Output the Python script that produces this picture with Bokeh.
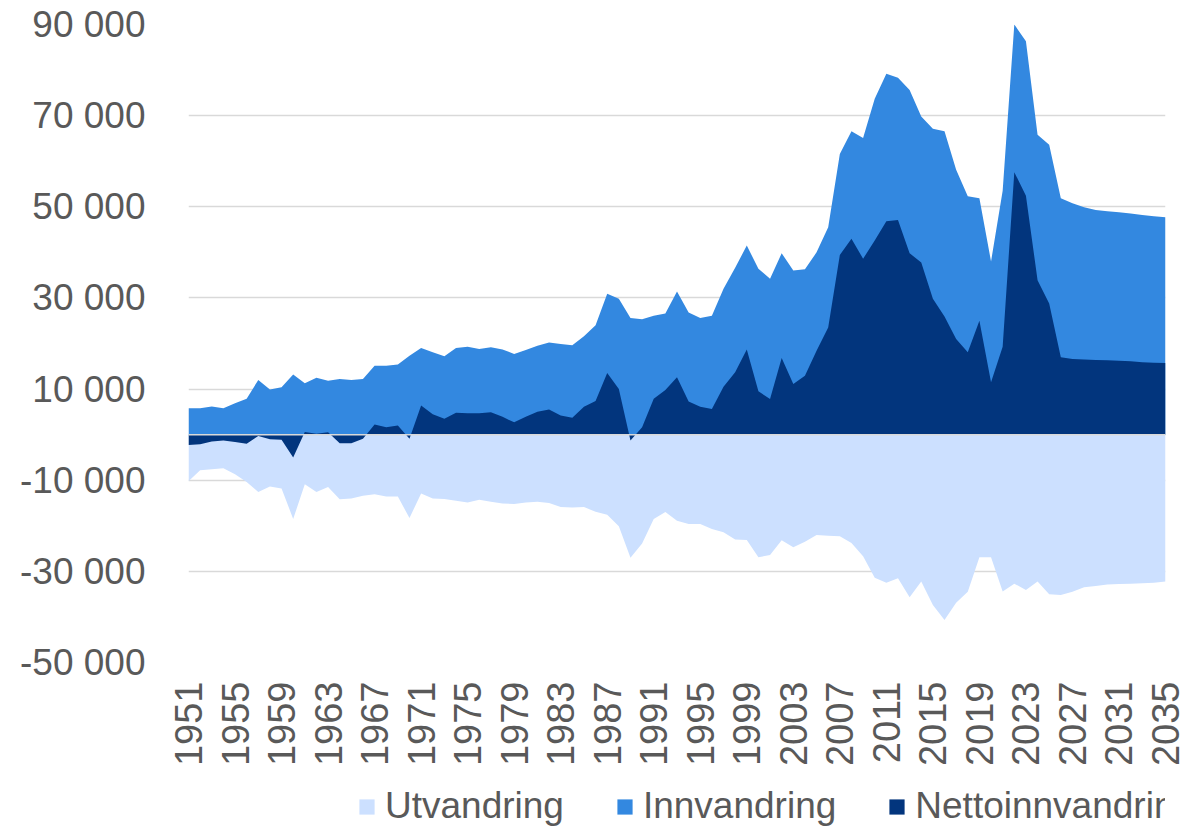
import math
from bokeh.plotting import figure
from bokeh.layouts import column
from bokeh.models import Range1d, FixedTicker, Legend, LegendItem, Span
from bokeh.embed import file_html
from bokeh.resources import INLINE

years = list(range(1951, 2036))

innvandring = [
    5800, 5800, 6200, 5800, 6900, 7900, 12000, 9900, 10400, 13200,
    11300, 12500, 11800, 12200, 12000, 12200, 15100, 15100, 15400, 17300,
    19000, 18100, 17200, 19000, 19300, 18800, 19200, 18700, 17700, 18600,
    19500, 20200, 19900, 19600, 21600, 24000, 30900, 29800, 25600, 25300,
    26100, 26600, 31400, 26800, 25600, 26100, 32000, 36600, 41500, 36400,
    34200, 39800, 36000, 36300, 40000, 45500, 61600, 66600, 65100, 73700,
    79200, 78300, 75600, 69800, 67100, 66600, 58100, 52300, 51900, 38000,
    53500, 90000, 86300, 65800, 63600, 51900, 50800, 49900, 49300, 49000,
    48800, 48500, 48200, 47900, 47700,
]

utvandring = [
    -10200, -7800, -7600, -7400, -8700, -10400, -12600, -11400, -11800, -18500,
    -10900, -12600, -11500, -14200, -14000, -13400, -13100, -13600, -13600, -18300,
    -12900, -14000, -14100, -14500, -14900, -14300, -14700, -15100, -15200, -14900,
    -14700, -15000, -15900, -16000, -15900, -16900, -17600, -20100, -27000, -23900,
    -18500, -17000, -18900, -19600, -19600, -20700, -21400, -23000, -23100, -26900,
    -26400, -23200, -24700, -23500, -22000, -22200, -22300, -23800, -26700, -31400,
    -32500, -31500, -35700, -32200, -37400, -40700, -36900, -34500, -26900, -26900,
    -34400, -32700, -34100, -32200, -35000, -35200, -34500, -33500, -33200, -32900,
    -32800, -32700, -32600, -32500, -32200,
]

nettoinnvandring = [
    -2300, -2100, -1500, -1300, -1600, -2000, -300, -1000, -1100, -5000,
    600, 200, 500, -1900, -1900, -900, 2200, 1600, 2000, -900,
    6400, 4500, 3500, 4800, 4700, 4700, 4900, 3900, 2700, 3900,
    5000, 5500, 4200, 3700, 6100, 7400, 13500, 10000, -1300, 1600,
    7900, 9800, 12600, 7300, 6100, 5600, 10500, 13700, 18700, 9500,
    7800, 16800, 11100, 12900, 18400, 23500, 39400, 43000, 38600, 42600,
    46800, 47100, 39800, 37800, 29800, 25900, 21000, 18100, 25000, 11500,
    19300, 57600, 52400, 33900, 28800, 17000, 16600, 16500, 16400, 16300,
    16200, 16100, 15900, 15800, 15700,
]

series_names = ["Utvandring", "Innvandring", "Nettoinnvandring"]
series_colors = ["#CCE0FF", "#3388E0", "#02357D"]
y_ticks = [-50000, -30000, -10000, 10000, 30000, 50000, 70000, 90000]
y_tick_labels = ["-50 000", "-30 000", "-10 000", "10 000", "30 000", "50 000", "70 000", "90 000"]
x_ticks = list(range(1951, 2036, 4))

FONT = "Liberation Sans"
TXT = "#595959"

p = figure(
    frame_width=977, frame_height=638, output_backend="svg", toolbar_location=None,
    x_range=Range1d(1951, 2035), y_range=Range1d(-50000, 90000),
    min_border_left=188, min_border_right=31, min_border_top=24, min_border_bottom=110,
)
p.outline_line_color = None
p.background_fill_color = "white"

all_series = [utvandring, innvandring, nettoinnvandring]
for vals, col in zip(all_series, series_colors):
    p.varea(x=years, y1=0, y2=vals, fill_color=col)

p.add_layout(Span(location=0, dimension="width", line_color="#d9d9d9", line_width=1.5))

p.xgrid.visible = False
p.ygrid.ticker = FixedTicker(ticks=y_ticks)
p.ygrid.grid_line_color = "#d9d9d9"
p.ygrid.grid_line_width = 1.3

p.yaxis.ticker = FixedTicker(ticks=y_ticks)
p.yaxis.major_label_overrides = dict(zip(y_ticks, y_tick_labels))
p.xaxis.ticker = FixedTicker(ticks=x_ticks)
p.xaxis.major_label_orientation = math.pi / 2

for ax in (p.xaxis[0], p.yaxis[0]):
    ax.axis_line_color = None
    ax.major_tick_line_color = None
    ax.minor_tick_line_color = None
    ax.major_label_text_font = FONT
    ax.major_label_text_color = TXT
p.yaxis.major_label_text_font_size = "37px"
p.xaxis.major_label_text_font_size = "38px"
p.yaxis.major_label_standoff = 37
p.xaxis.major_label_standoff = 13

# legend strip below the chart (series drawn out of its view; only the legend shows)
leg = figure(
    width=1196, height=55, output_backend="svg", toolbar_location=None,
    x_range=Range1d(0, 1), y_range=Range1d(0, 1), min_border=0,
    x_axis_location=None, y_axis_location=None,
)
leg.grid.visible = False
leg.outline_line_color = None
leg_renderers = [leg.varea(x=years, y1=0, y2=vals, fill_color=c)
                 for vals, c in zip(all_series, series_colors)]

legend = Legend(
    items=[LegendItem(label=n, renderers=[r]) for n, r in zip(series_names, leg_renderers)],
    orientation="horizontal", location=(169, 0),
    glyph_width=19, glyph_height=19, label_standoff=9, spacing=51,
    padding=0, margin=0, border_line_color=None, background_fill_alpha=0,
    label_text_font=FONT, label_text_font_size="37px", label_text_color=TXT,
)
leg.add_layout(legend)

layout = column(p, leg, spacing=0)
open("out.html", "w").write(file_html(layout, INLINE))
